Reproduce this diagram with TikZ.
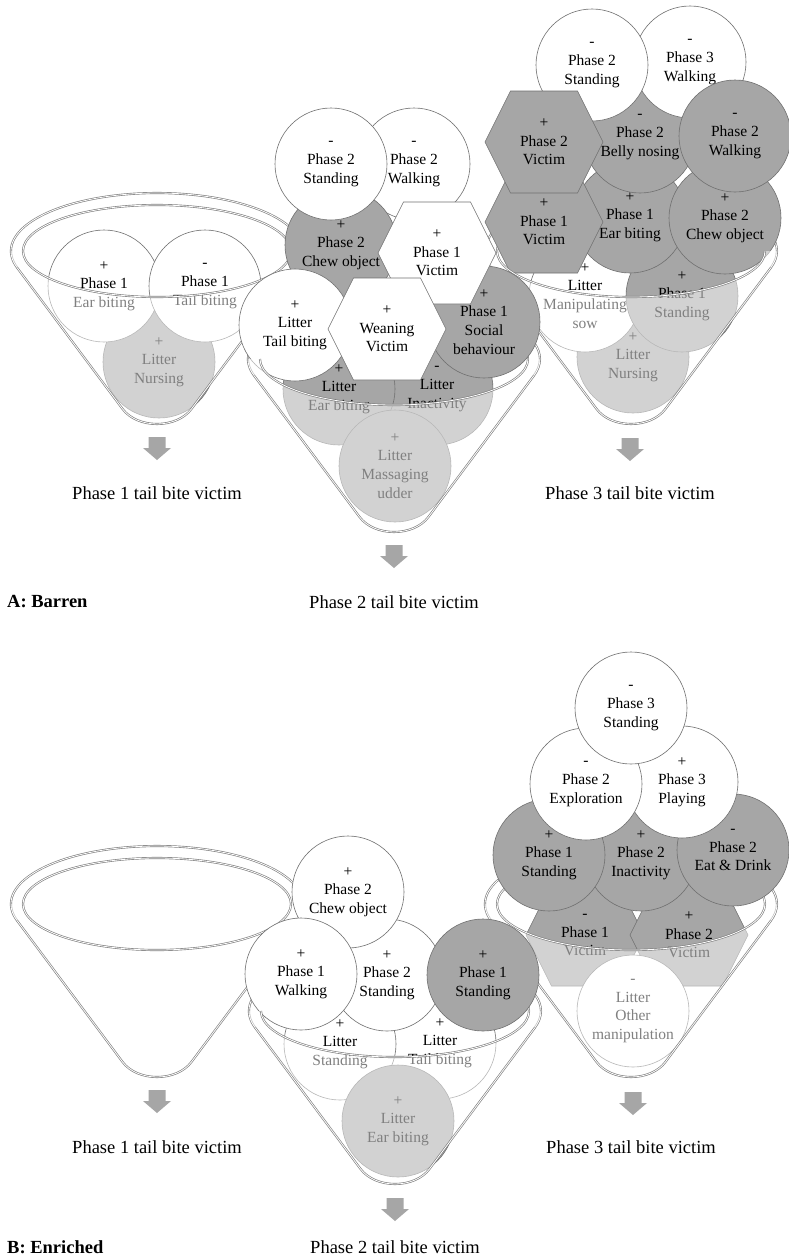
\documentclass[tikz,border=0pt]{standalone}
\usepackage{fontspec}
\setmainfont{Liberation Serif}
\definecolor{darkfill}{HTML}{A6A6A6}
\definecolor{cline}{HTML}{707070}
\definecolor{fline}{HTML}{7F7F7F}
\definecolor{arrowgrey}{HTML}{A6A6A6}

\tikzset{
  blob/.style={circle, draw=cline, line width=0.6pt, minimum size=112pt, inner sep=0pt,
    align=center, font=\fontsize{15.5}{18.7}\selectfont},
  wblob/.style={blob, fill=white},
  dblob/.style={blob, fill=darkfill},
  hexline/.style={draw=cline, line width=0.6pt},
  hextext/.style={align=center, inner sep=0pt, font=\fontsize{15.5}{18.7}\selectfont},
  funnelline/.style={draw=fline, line width=0.65pt, double=white, double distance=0.8pt},
  resultlabel/.style={font=\fontsize{18.5}{22}\selectfont, inner sep=0pt},
  panellabel/.style={font=\bfseries\fontsize{18.5}{22}\selectfont, inner sep=0pt, anchor=west},
}

% back half of a funnel: rim top (outer and inner ellipse)
\newcommand{\funnelback}[2]{%
  \draw[funnelline] ({#1-140},{#2+16.5}) arc[start angle=163.5, end angle=376.5, x radius=146, y radius=58];
  \draw[funnelline] ({#1-134},{#2}) arc[start angle=180, end angle=360, x radius=134, y radius=46];
}
% front of a funnel: translucent body, sides, bottom, front rim edge
\newcommand{\funnelfront}[2]{%
  \fill[white, fill opacity=0.5] ({#1-140},{#2+16.5})
    arc[start angle=163.5, end angle=180, x radius=146, y radius=58]
    -- ({#1-134},{#2}) arc[start angle=180, end angle=0, x radius=134, y radius=46]
    -- ({#1+146},{#2}) arc[start angle=0, end angle=16.5, x radius=146, y radius=58]
    -- ({#1+34.4},{#2+158})
    .. controls ({#1+27.2},{#2+167.6}) and ({#1+14},{#2+173}) .. ({#1},{#2+173})
    .. controls ({#1-14},{#2+173}) and ({#1-27.2},{#2+167.6}) .. ({#1-34.4},{#2+158})
    -- cycle;
  \draw[funnelline] ({#1-140},{#2+16.5}) -- ({#1-34.4},{#2+158})
    .. controls ({#1-27.2},{#2+167.6}) and ({#1-14},{#2+173}) .. ({#1},{#2+173})
    .. controls ({#1+14},{#2+173}) and ({#1+27.2},{#2+167.6}) .. ({#1+34.4},{#2+158})
    -- ({#1+140},{#2+16.5});
  \draw[funnelline] ({#1-134},{#2}) arc[start angle=180, end angle=0, x radius=134, y radius=46];
}
% hexagon with its label: name, x, y, fill, text
\newcommand{\hexbox}[5]{%
  \draw[hexline, fill=#4] ({#2-59},{#3}) -- ({#2-33.5},{#3-51}) -- ({#2+33.5},{#3-51})
    -- ({#2+59},{#3}) -- ({#2+33.5},{#3+51}) -- ({#2-33.5},{#3+51}) -- cycle;
  \node[hextext] (#1) at (#2,#3) {#5};
}
% small block arrow pointing down: x, top y
\newcommand{\downarrowat}[2]{%
  \fill[arrowgrey] ({#1-8.5},{#2}) -- ({#1+8.5},{#2}) -- ({#1+8.5},{#2+11}) -- ({#1+14},{#2+11})
    -- ({#1},{#2+23}) -- ({#1-14},{#2+11}) -- ({#1-8.5},{#2+11}) -- cycle;
}

\begin{document}
\begin{tikzpicture}[x=1pt, y=-1pt]
\fill[white] (0,0) rectangle (789,1258);
\useasboundingbox (0,0) rectangle (789,1258);

%% ---------------- A: Barren ----------------
% Phase 1 funnel
\funnelback{157}{251}
\node[dblob] (aNursA) at (159,362) {+\\Litter\\Nursing};
\node[wblob] (aEarA) at (104,286) {+\\Phase 1\\Ear biting};
\node[wblob] (aTailA) at (205,286) {-\\Phase 1\\Tail biting};
\funnelfront{157}{251}
\downarrowat{157}{437}
\node[resultlabel] (resA1) at (157,493) {Phase 1 tail bite victim};

% Phase 3 funnel
\funnelback{631}{251}
\node[dblob] (cNursA) at (633,357) {+\\Litter\\Nursing};
\node[wblob] (cManipA) at (585,296) {+\\Litter\\Manipulating\\sow};
\node[dblob] (cStandA) at (682,296) {+\\Phase 1\\Standing};
\node[dblob] (cEarA) at (630,217) {+\\Phase 1\\Ear biting};
\node[dblob] (cChewA) at (725,218) {+\\Phase 2\\Chew object};
\hexbox{cVicOneA}{544}{222}{darkfill}{+\\Phase 1\\Victim}
\node[dblob] (cBellyA) at (640,137) {-\\Phase 2\\Belly nosing};
\node[wblob] (cWalkThreeA) at (690,62) {-\\Phase 3\\Walking};
\node[wblob] (cStandTwoA) at (592,65) {-\\Phase 2\\Standing};
\node[dblob] (cWalkTwoA) at (735,136) {-\\Phase 2\\Walking};
\hexbox{cVicTwoA}{544}{142}{darkfill}{+\\Phase 2\\Victim}
\funnelfront{631}{251}
\downarrowat{630}{438}
\node[resultlabel] (resA3) at (630,493) {Phase 3 tail bite victim};

% Phase 2 funnel
\funnelback{394}{359}
\node[wblob] (bWalkA) at (414,164) {-\\Phase 2\\Walking};
\node[dblob] (bChewA) at (341,245) {+\\Phase 2\\Chew object};
\node[wblob] (bStandA) at (331,164) {-\\Phase 2\\Standing};
\node[dblob] (bInactA) at (437,389) {-\\Litter\\Inactivity};
\node[dblob] (bEarA) at (339,389) {+\\Litter\\Ear biting};
\node[dblob] (bSocialA) at (484,322) {+\\Phase 1\\Social\\behaviour};
\hexbox{bVicOneA}{437}{253}{white}{+\\Phase 1\\Victim}
\node[wblob] (bTailA) at (295,325) {+\\Litter\\Tail biting};
\hexbox{bWeanA}{387}{329}{white}{+\\Weaning\\Victim}
\node[dblob] (bMassA) at (395,466) {+\\Litter\\Massaging\\udder};
\funnelfront{394}{359}
\downarrowat{394}{545}
\node[resultlabel] (resA2) at (394,602) {Phase 2 tail bite victim};

\node[panellabel] (panelA) at (7,602) {A: Barren};

%% ---------------- B: Enriched ----------------
% Phase 1 funnel
\funnelback{157}{904}
\funnelfront{157}{904}
\downarrowat{157}{1090}
\node[resultlabel] (resB1) at (157,1147) {Phase 1 tail bite victim};

% Phase 3 funnel
\funnelback{631}{904}
\hexbox{cVicOneB}{585}{935}{darkfill}{-\\Phase 1\\Victim}
\hexbox{cVicTwoB}{689}{935}{darkfill}{+\\Phase 2\\Victim}
\node[wblob] (cOtherB) at (633,1011) {-\\Litter\\Other\\manipulation};
\node[dblob] (cInactB) at (641,855) {+\\Phase 2\\Inactivity};
\node[dblob] (cStandOneB) at (549,855) {+\\Phase 1\\Standing};
\node[dblob] (cEatB) at (733,850) {-\\Phase 2\\Eat \& Drink};
\node[wblob] (cPlayB) at (682,782) {+\\Phase 3\\Playing};
\node[wblob] (cExplB) at (586,784) {-\\Phase 2\\Exploration};
\node[wblob] (cStandThreeB) at (631,708) {-\\Phase 3\\Standing};
\funnelfront{631}{904}
\downarrowat{633}{1092}
\node[resultlabel] (resB3) at (631,1147) {Phase 3 tail bite victim};

% Phase 2 funnel
\funnelback{395}{1011}
\node[wblob] (bLTailB) at (440,1043) {+\\Litter\\Tail biting};
\node[wblob] (bLStandB) at (340,1044) {+\\Litter\\Standing};
\node[dblob] (bLEarB) at (398,1121) {+\\Litter\\Ear biting};
\node[wblob] (bStandTwoB) at (387,975) {+\\Phase 2\\Standing};
\node[wblob] (bChewB) at (348,892) {+\\Phase 2\\Chew object};
\node[wblob] (bWalkB) at (301,974) {+\\Phase 1\\Walking};
\node[dblob] (bStandOneB) at (483,975) {+\\Phase 1\\Standing};
\funnelfront{395}{1011}
\downarrowat{395}{1198}
\node[resultlabel] (resB2) at (395,1247) {Phase 2 tail bite victim};

\node[panellabel] (panelB) at (7,1247) {B: Enriched};
\end{tikzpicture}
\end{document}
